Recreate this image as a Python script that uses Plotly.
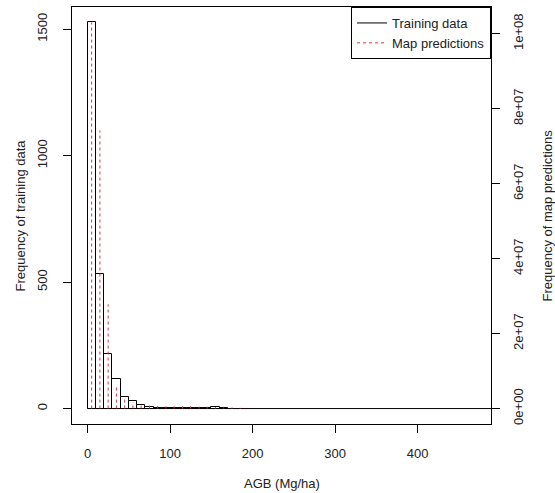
import plotly.graph_objects as go

# ---- data ----
BIN_WIDTH = 10
# training-data histogram counts, bins 0-10, 10-20, ...
TRAIN_COUNTS = [1527, 534, 214, 116, 46, 29, 14, 7, 4, 3, 4, 2, 3, 4, 4, 7, 1]
# map-prediction histogram counts at bin mids 5, 15, 25, ...
PRED_COUNTS = [1.03e8, 7.42e7, 2.78e7, 6.3e6, 3.1e6, 1.7e6, 1.0e6, 0.8e6, 0.7e6,
               0.6e6, 0.6e6, 0.6e6, 0.6e6, 0.5e6, 0.5e6, 0.4e6, 0.3e6, 0.3e6, 0.2e6]
X_LIMITS = [0, 470]
BASELINE_END = 490
X_TICKS = [0, 100, 200, 300, 400]
Y_TICKS = [0, 500, 1000, 1500]
Y2_TICKS = [0, 2e7, 4e7, 6e7, 8e7, 1e8]

FONT = "Liberation Sans, Arial, sans-serif"
TXT = "#222222"
RED = "#d8344a"

train_mids = [i * BIN_WIDTH + BIN_WIDTH / 2 for i in range(len(TRAIN_COUNTS))]
pred_mids = [i * BIN_WIDTH + BIN_WIDTH / 2 for i in range(len(PRED_COUNTS))]


def ext(lo, hi):
    d = (hi - lo) * 0.04
    return [lo - d, hi + d]


fig = go.Figure()

fig.add_trace(go.Bar(
    x=train_mids, y=TRAIN_COUNTS, width=BIN_WIDTH,
    marker=dict(color="white", line=dict(color="black", width=1)),
    showlegend=False, hoverinfo="skip", yaxis="y"))

fig.add_trace(go.Scatter(
    x=[X_LIMITS[0], BASELINE_END], y=[0, 0], mode="lines",
    line=dict(color="black", width=1), name="Training data", yaxis="y"))

hx, hy = [], []
for m, v in zip(pred_mids, PRED_COUNTS):
    hx += [m, m, None]
    hy += [0, v, None]
fig.add_trace(go.Scatter(
    x=hx, y=hy, mode="lines", line=dict(color=RED, width=1, dash="3px,3px"),
    name="Map predictions", yaxis="y2"))

fig.update_layout(
    width=555, height=493,
    margin=dict(l=72, r=64, t=7, b=69),
    paper_bgcolor="white", plot_bgcolor="white",
    font=dict(family=FONT, size=13, color=TXT),
    bargap=0,
    xaxis=dict(range=ext(*X_LIMITS), tickvals=X_TICKS, ticks="outside", ticklen=8,
               tickcolor="black", showline=True, mirror=True, linecolor="black",
               linewidth=1, showgrid=False, zeroline=False, ticklabelstandoff=9,
               tickfont=dict(size=13, color=TXT)),
    yaxis=dict(range=ext(0, max(TRAIN_COUNTS)), tickvals=Y_TICKS, ticks="outside",
               ticklen=8, tickcolor="black", tickangle=-90, showline=True,
               mirror=True, linecolor="black", linewidth=1, showgrid=False,
               zeroline=False, ticklabelstandoff=11,
               tickfont=dict(size=13, color=TXT)),
    yaxis2=dict(range=ext(0, max(PRED_COUNTS)), overlaying="y", side="right",
                tickvals=Y2_TICKS, ticktext=[f"{v:.0e}" for v in Y2_TICKS],
                ticks="outside", ticklen=8, tickcolor="black", tickangle=-90,
                showline=False, showgrid=False, zeroline=False,
                ticklabelstandoff=7, tickfont=dict(size=13, color=TXT)),
    legend=dict(x=1, y=1, xanchor="right", yanchor="top", bgcolor="white",
                bordercolor="black", borderwidth=1, font=dict(size=13, color=TXT),
                tracegroupgap=0),
    annotations=[
        dict(text="AGB (Mg/ha)", xref="paper", yref="paper", x=0.5, y=-0.142,
             xanchor="center", yanchor="middle", showarrow=False,
             font=dict(size=13, color=TXT)),
        dict(text="Frequency of training data", xref="paper", yref="paper",
             x=-52 / 419, y=0.5, textangle=-90, xanchor="center", yanchor="middle",
             showarrow=False, font=dict(size=13, color=TXT)),
        dict(text="Frequency of map predictions", xref="paper", yref="paper",
             x=1 + 56 / 419, y=0.5, textangle=-90, xanchor="center",
             yanchor="middle", showarrow=False, font=dict(size=13, color=TXT)),
    ],
)

fig.write_html("out.html")
